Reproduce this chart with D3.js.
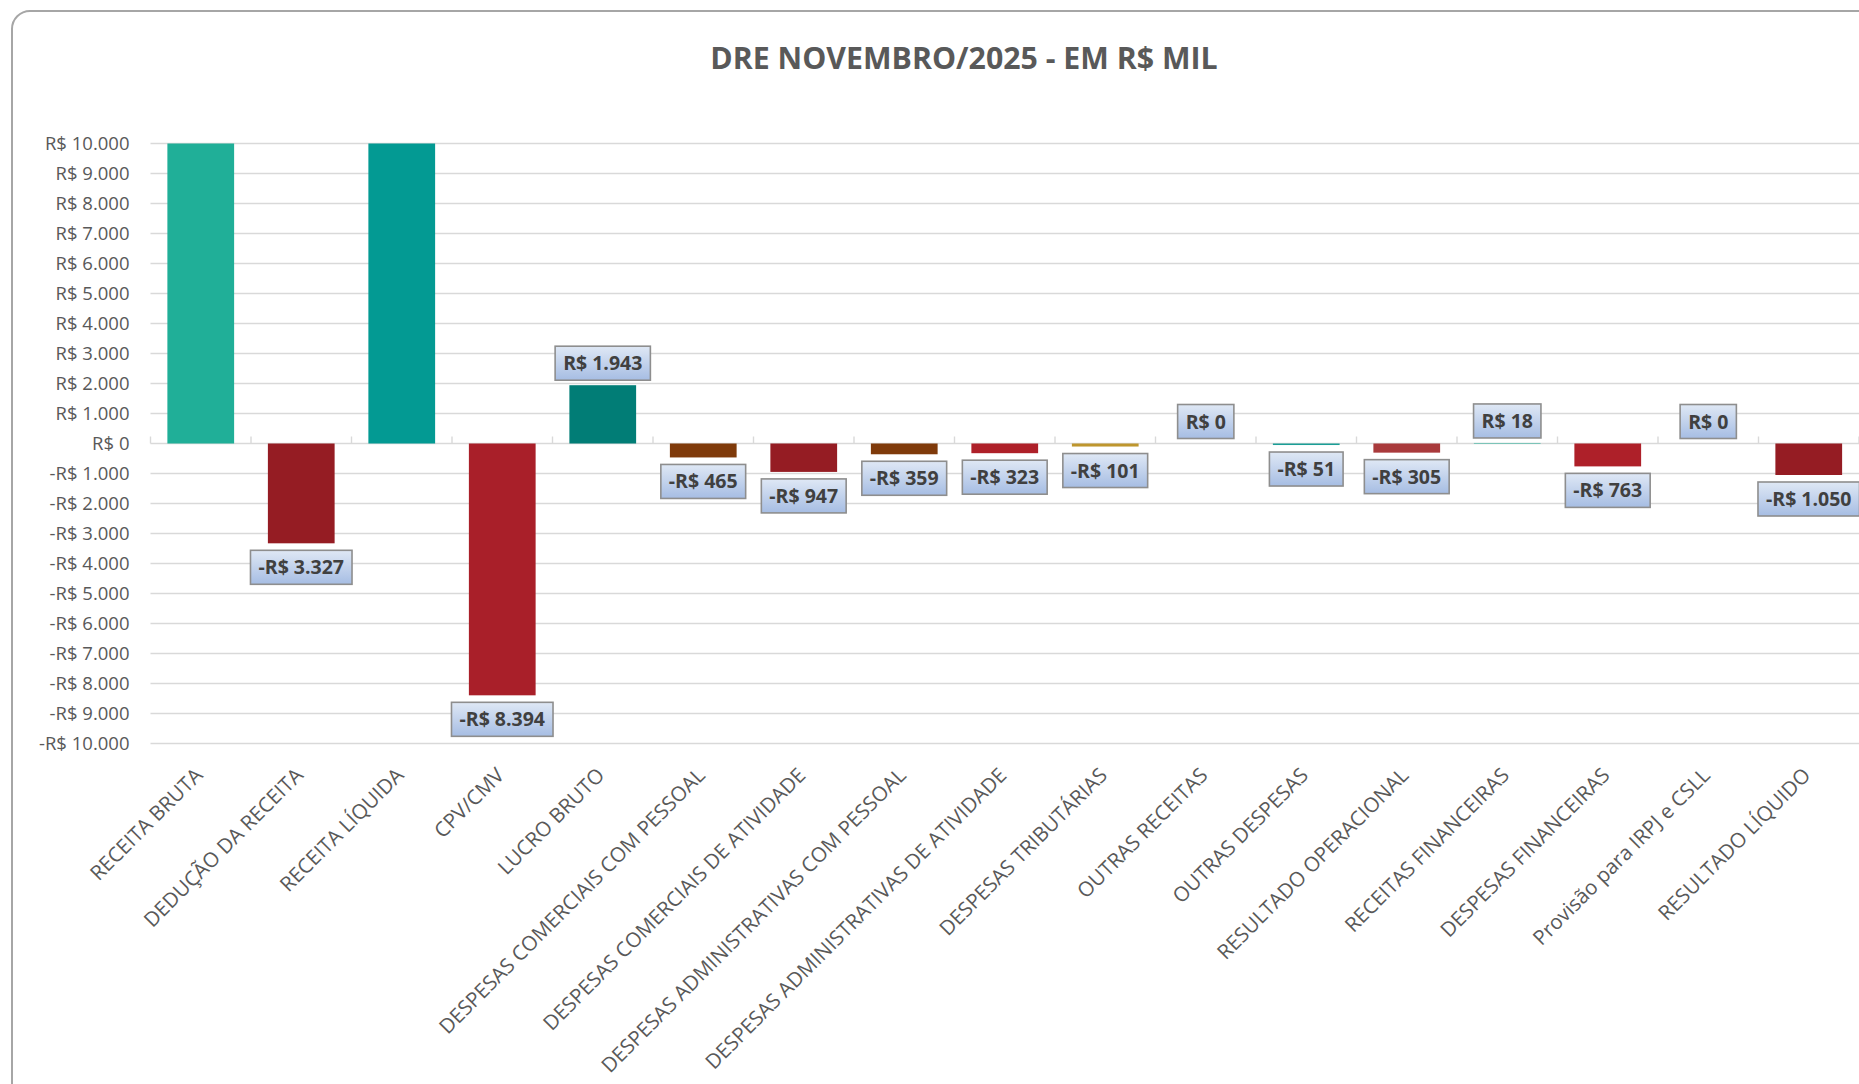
<!DOCTYPE html>
<html>
<head>
<meta charset="utf-8">
<script src="https://cdn.jsdelivr.net/npm/d3@7"></script>
<style>
  body { margin: 0; background: #fff; }
  svg { display: block; font-family: "Open Sans", sans-serif; }
</style>
</head>
<body>
<svg id="chart" width="1859" height="1084"></svg>
<script>
const categories = [
  "RECEITA BRUTA",
  "DEDUÇÃO DA RECEITA",
  "RECEITA LÍQUIDA",
  "CPV/CMV",
  "LUCRO BRUTO",
  "DESPESAS COMERCIAIS COM PESSOAL",
  "DESPESAS COMERCIAIS DE ATIVIDADE",
  "DESPESAS ADMINISTRATIVAS COM PESSOAL",
  "DESPESAS ADMINISTRATIVAS DE ATIVIDADE",
  "DESPESAS TRIBUTÁRIAS",
  "OUTRAS RECEITAS",
  "OUTRAS DESPESAS",
  "RESULTADO OPERACIONAL",
  "RECEITAS FINANCEIRAS",
  "DESPESAS FINANCEIRAS",
  "Provisão para IRPJ e CSLL",
  "RESULTADO LÍQUIDO",
];

// R$ mil
const values = [13664, -3327, 10337, -8394, 1943, -465, -947, -359, -323, -101, 0, -51, -305, 18, -763, 0, -1050];

const barColors = [
  "#20af98", "#951c23", "#039a93", "#a91f29", "#017d76", "#7f3a0a",
  "#951c23", "#7f3a0a", "#ae2029", "#be962e", "#20af98", "#1a9e96",
  "#a93a3c", "#20af98", "#ae2029", "#20af98", "#951c23",
];

const yTicks = d3.range(-10000, 10001, 1000);

const data = categories.map((c, i) => ({ cat: c, value: values[i], color: barColors[i] }));

const ptBR = d3.formatLocale({
  decimal: ",",
  thousands: ".",
  grouping: [3],
  currency: ["R$ ", ""],
  minus: "-",
});
const fmt = ptBR.format("$,.0f");

const svg = d3.select("#chart");
const width = +svg.attr("width");
const height = +svg.attr("height");

const plot = { left: 150.5, right: width, top: 143.5, bottom: 743.5 };

const x = d3
  .scaleBand()
  .domain(categories)
  .range([plot.left, plot.right])
  .paddingInner(0.336)
  .paddingOuter(0.168);

const y = d3.scaleLinear().domain([-10000, 10000]).range([plot.bottom, plot.top]);

const defs = svg.append("defs");
const grad = defs
  .append("linearGradient")
  .attr("id", "lblFill")
  .attr("x1", 0).attr("y1", 0).attr("x2", 0).attr("y2", 1);
grad.append("stop").attr("offset", "0%").attr("stop-color", "#dfe8f5");
grad.append("stop").attr("offset", "100%").attr("stop-color", "#a6bde3");

defs
  .append("clipPath")
  .attr("id", "plotClip")
  .append("rect")
  .attr("x", plot.left)
  .attr("y", plot.top)
  .attr("width", plot.right - plot.left)
  .attr("height", plot.bottom - plot.top);

// chart frame
svg
  .append("rect")
  .attr("x", 12)
  .attr("y", 11)
  .attr("width", width + 40)
  .attr("height", height + 40)
  .attr("rx", 18)
  .attr("fill", "none")
  .attr("stroke", "#a6a6a6")
  .attr("stroke-width", 2);

svg
  .append("text")
  .attr("x", 964)
  .attr("y", 69)
  .attr("text-anchor", "middle")
  .attr("fill", "#595959")
  .style("font-size", "30.3px")
  .style("font-weight", "bold")
  .text("DRE NOVEMBRO/2025 - EM R$ MIL");

// gridlines + y labels
svg.append("g").call((g) =>
  g
    .selectAll("line")
    .data(yTicks)
    .join("line")
    .attr("x1", plot.left)
    .attr("x2", plot.right)
    .attr("y1", (d) => y(d))
    .attr("y2", (d) => y(d))
    .attr("stroke", "#d9d9d9")
    .attr("stroke-width", 1.4)
);

svg
  .append("g")
  .attr("transform", `translate(${plot.left - 21},0)`)
  .call(d3.axisLeft(y).tickValues(yTicks).tickFormat(fmt).tickSize(0).tickPadding(0))
  .call((g) => g.select(".domain").remove())
  .call((g) =>
    g
      .selectAll("text")
      .attr("fill", "#595959")
      .style("font-size", "18.5px")
      .style("font-family", "Open Sans, sans-serif")
  );

// zero axis ticks between categories
svg
  .append("g")
  .selectAll("line")
  .data(d3.range(categories.length + 1))
  .join("line")
  .attr("x1", (i) => plot.left + i * x.step())
  .attr("x2", (i) => plot.left + i * x.step())
  .attr("y1", y(0))
  .attr("y2", y(0) - 7)
  .attr("stroke", "#d9d9d9")
  .attr("stroke-width", 1.4);

// bars
svg
  .append("g")
  .attr("clip-path", "url(#plotClip)")
  .selectAll("rect")
  .data(data)
  .join("rect")
  .attr("x", (d) => x(d.cat))
  .attr("width", x.bandwidth())
  .attr("y", (d) => y(Math.max(0, d.value)))
  .attr("height", (d) => Math.abs(y(d.value) - y(0)))
  .attr("fill", (d) => d.color);

// data labels (values past the axis range get none, like the source)
const lbl = svg
  .append("g")
  .selectAll("g")
  .data(data.filter((d) => Math.abs(d.value) <= 10000))
  .join("g");

lbl
  .append("text")
  .attr("text-anchor", "middle")
  .attr("fill", "#404040")
  .style("font-size", "19.5px")
  .style("font-weight", "bold")
  .text((d) => fmt(d.value));

lbl.each(function (d) {
  const g = d3.select(this);
  const t = g.select("text");
  const w = t.node().getComputedTextLength() + 16;
  const h = 34;
  const cx = x(d.cat) + x.bandwidth() / 2;
  const top = d.value < 0 ? y(d.value) + 7 : y(d.value) - 5 - h;
  g.insert("rect", "text")
    .attr("x", cx - w / 2)
    .attr("y", top)
    .attr("width", w)
    .attr("height", h)
    .attr("fill", "url(#lblFill)")
    .attr("stroke", "#8e8e8e")
    .attr("stroke-width", 1.6);
  t.attr("x", cx).attr("y", top + h / 2).attr("dy", "0.36em");
});

// category labels
svg
  .append("g")
  .selectAll("text")
  .data(categories)
  .join("text")
  .attr("transform", (d) => `translate(${x(d) + x.bandwidth() / 2 - 2},${plot.bottom + 28}) rotate(-45)`)
  .attr("text-anchor", "end")
  .attr("dy", "0.35em")
  .attr("fill", "#595959")
  .style("font-size", "20.5px")
  .text((d) => d);
</script>
</body>
</html>
